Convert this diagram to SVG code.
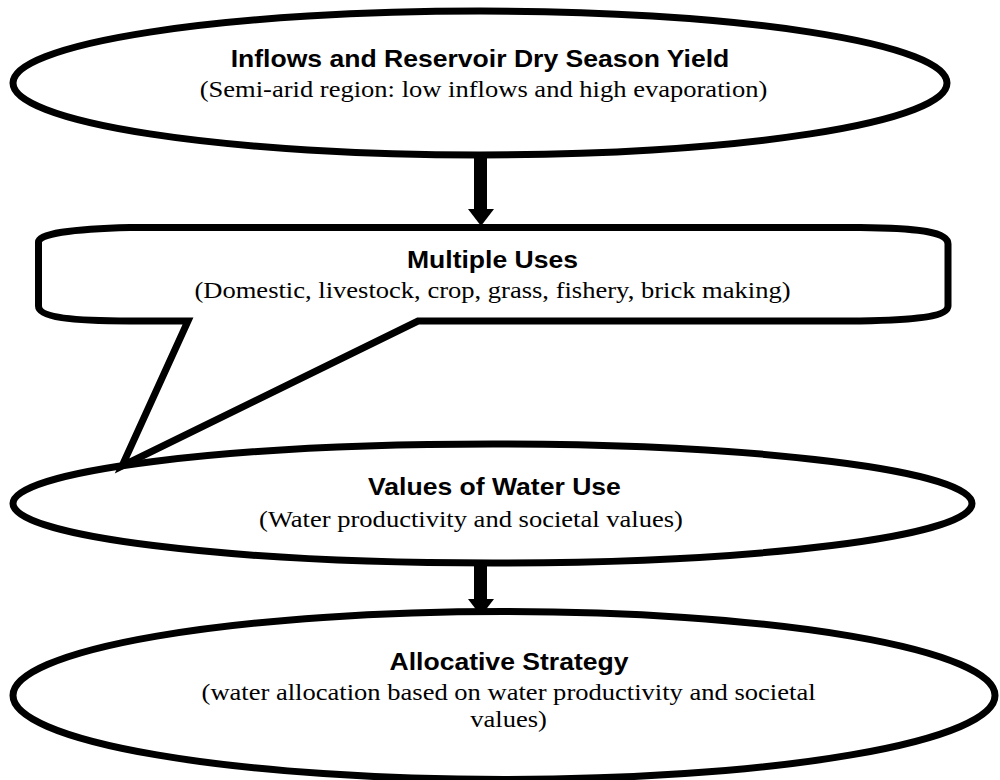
<svg xmlns="http://www.w3.org/2000/svg" width="1000" height="780" viewBox="0 0 1000 780">
<style>
.shape{fill:#fff;stroke:#000;stroke-width:7;stroke-linejoin:miter;stroke-miterlimit:10}
.title{font-family:"Liberation Sans",Arial,sans-serif;font-weight:bold;font-size:23px;text-anchor:middle;fill:#000}
.sub{font-family:"Liberation Serif","Times New Roman",serif;font-size:23px;text-anchor:middle;fill:#000}
.arrow{fill:#000;stroke:none}
</style>
<rect width="1000" height="780" fill="#fff"/>
<g id="connectors">
  <g id="arrow1">
    <rect class="arrow" x="474" y="150" width="13" height="60"/>
    <polygon class="arrow" points="468,209 494,209 481,226"/>
  </g>
  <g id="arrow2">
    <rect class="arrow" x="474" y="558" width="13" height="42"/>
    <polygon class="arrow" points="468,599 494,599 481,616"/>
  </g>
</g>
<g id="node-inflows">
  <ellipse class="shape" cx="480" cy="83" rx="467" ry="72"/>
  <g transform="matrix(1.155 0 0 1 0 0)">
    <text class="title" x="415.6" y="67">Inflows and Reservoir Dry Season Yield</text>
    <text class="sub" x="418.6" y="97">(Semi-arid region: low inflows and high evaporation)</text>
  </g>
</g>
<g id="node-allocative">
  <ellipse class="shape" cx="504" cy="695.5" rx="491" ry="84"/>
  <g transform="matrix(1.155 0 0 1 0 0)">
    <text class="title" x="440.7" y="670">Allocative Strategy</text>
    <text class="sub" x="440.3" y="700">(water allocation based on water productivity and societal</text>
    <text class="sub" x="440.3" y="727">values)</text>
  </g>
</g>
<g id="node-values">
  <ellipse class="shape" cx="492.5" cy="503.5" rx="479.5" ry="59.5"/>
  <g transform="matrix(1.155 0 0 1 0 0)">
    <text class="title" x="428.1" y="495">Values of Water Use</text>
    <text class="sub" x="407.8" y="527">(Water productivity and societal values)</text>
  </g>
</g>
<g id="node-multiple-uses">
  <path class="shape" d="M130,227.5 H860 C920,228 948,232 948,244 V306 C948,316 920,320 860,321 H418 L122,466 L188,321 H130 C70,321 38.5,317 38.5,306 V242 C38.5,234 70,229 130,227.5 Z"/>
  <g transform="matrix(1.155 0 0 1 0 0)">
    <text class="title" x="426.4" y="268">Multiple Uses</text>
    <text class="sub" x="426.4" y="298">(Domestic, livestock, crop, grass, fishery, brick making)</text>
  </g>
</g>
</svg>
